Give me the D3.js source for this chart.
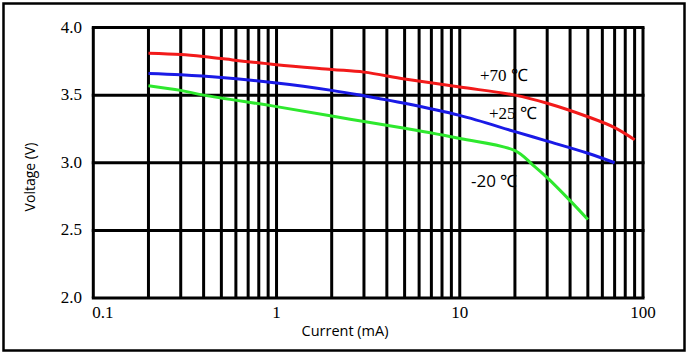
<!DOCTYPE html>
<html><head><meta charset="utf-8">
<script src="https://cdn.jsdelivr.net/npm/d3@7"></script>
<style>body{margin:0;background:#fff}svg{display:block}</style>
</head><body>
<script>
const xTicks = [0.1, 1, 10, 100];
const xTickLabels = ["0.1", "1", "10", "100"];
const yTicks = [2.0, 2.5, 3.0, 3.5, 4.0];
const yTickLabels = ["2.0", "2.5", "3.0", "3.5", "4.0"];

const redCurrent = [0.2, 0.3, 0.4, 0.5, 1, 2, 3, 5, 10, 20, 30, 50, 70, 90];
const redVoltage = [3.81, 3.80, 3.785, 3.77, 3.725, 3.69, 3.67, 3.62, 3.56, 3.50, 3.44, 3.34, 3.26, 3.17];
const blueCurrent = [0.2, 0.3, 0.5, 1, 2, 3, 5, 10, 20, 30, 50, 70];
const blueVoltage = [3.66, 3.65, 3.63, 3.59, 3.535, 3.495, 3.44, 3.35, 3.23, 3.16, 3.07, 3.00];
const greenCurrent = [0.2, 0.3, 0.4, 1, 2, 3, 5, 10, 20, 25, 30, 40, 50];
const greenVoltage = [3.57, 3.535, 3.50, 3.415, 3.345, 3.305, 3.255, 3.18, 3.09, 2.985, 2.89, 2.72, 2.58];
const seriesLabels = ["+70 ℃", "+25 ℃", "-20 ℃"];

const SERIF = "'Liberation Serif', 'Times New Roman', serif";
const SANS = "'Open Sans', sans-serif";

const W = 689, H = 355;
const svg = d3.select("body").append("svg").attr("width", W).attr("height", H);

svg.append("rect").attr("x", 3.5).attr("y", 3.5).attr("width", 681).attr("height", 347)
  .attr("fill", "none").attr("stroke", "#000").attr("stroke-width", 2.5);

const x = d3.scaleLog().domain([0.1, 100]).range([93.3, 643]);
const y = d3.scaleLinear().domain([2, 4]).range([298, 27.5]);

// grid
const gridX = [];
[0.1, 1, 10].forEach(d => { for (let k = 1; k <= 9; k++) gridX.push(+(d * k).toPrecision(3)); });
gridX.push(100);
const g = svg.append("g");
g.selectAll("line.v").data(gridX).join("line")
  .attr("x1", d => x(d)).attr("x2", d => x(d))
  .attr("y1", y(2)).attr("y2", y(4))
  .attr("stroke", "#000").attr("stroke-width", 3);
g.selectAll("line.h").data(yTicks).join("line")
  .attr("x1", x(0.1) - 1.5).attr("x2", x(100) + 1.5)
  .attr("y1", d => y(d)).attr("y2", d => y(d))
  .attr("stroke", "#000").attr("stroke-width", 3);

// tick labels
svg.selectAll("text.yl").data(yTicks).join("text")
  .attr("font-family", SERIF).attr("font-size", 17)
  .attr("x", 82).attr("y", d => y(d) + 5)
  .attr("text-anchor", "end")
  .text((d, i) => yTickLabels[i]);
svg.selectAll("text.xl").data(xTicks).join("text")
  .attr("font-family", SERIF).attr("font-size", 17)
  .attr("x", (d, i) => i === 0 ? x(d) - 1 : x(d))
  .attr("y", 318)
  .attr("text-anchor", (d, i) => i === 0 ? "start" : "middle")
  .text((d, i) => xTickLabels[i]);

svg.append("text").attr("font-family", SANS).attr("font-size", 14.5)
  .attr("x", 345).attr("y", 336).attr("text-anchor", "middle")
  .text("Current (mA)");
svg.append("text").attr("font-family", SANS).attr("font-size", 14)
  .attr("transform", "translate(35,177) rotate(-90)").attr("text-anchor", "middle")
  .text("Voltage (V)");

// curves
const line = d3.line().x(d => x(d[0])).y(d => y(d[1])).curve(d3.curveCatmullRom.alpha(0.5));
const series = [
  {c: redCurrent, v: redVoltage, color: "#f21a1a"},
  {c: blueCurrent, v: blueVoltage, color: "#1a1ae6"},
  {c: greenCurrent, v: greenVoltage, color: "#2ee82e"}
];
series.forEach(s => {
  svg.append("path").datum(s.c.map((c, i) => [c, s.v[i]]))
    .attr("d", line).attr("fill", "none").attr("stroke", s.color)
    .attr("stroke-width", 3).attr("stroke-linejoin", "round");
});

// series labels
const lab = [
  {x: 480, y: 81, f: SERIF},
  {x: 489, y: 119, f: SERIF},
  {x: 471, y: 187, f: SANS}
];
lab.forEach((l, i) => {
  svg.append("text").attr("font-family", l.f).attr("font-size", 17)
    .attr("x", l.x).attr("y", l.y)
    .style("white-space", "pre")
    .text(seriesLabels[i]);
});
</script>
</body></html>
